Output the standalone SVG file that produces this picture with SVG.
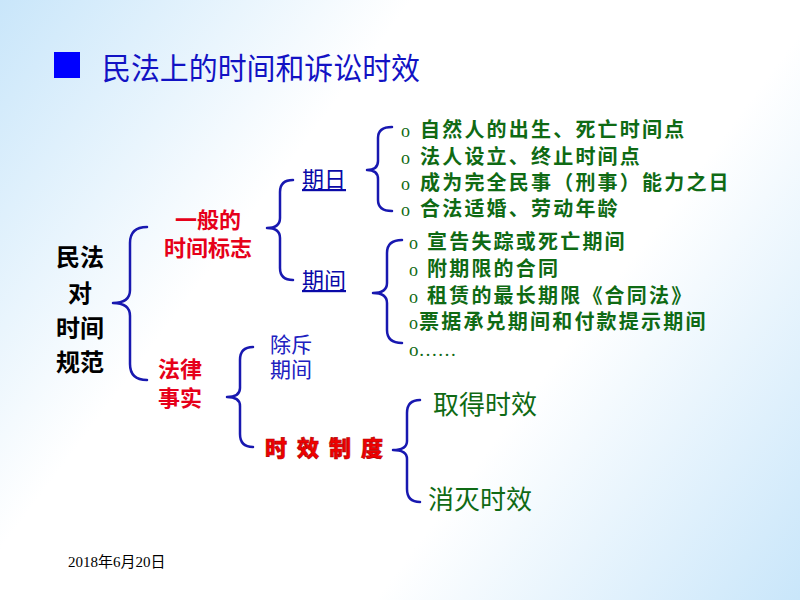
<svg xmlns="http://www.w3.org/2000/svg" width="800" height="600" viewBox="0 0 800 600">
<defs>
<linearGradient id="bg" gradientUnits="userSpaceOnUse" x1="0" y1="0" x2="800" y2="600">
<stop offset="0" stop-color="#c9e6fa"/>
<stop offset="0.33" stop-color="#ffffff"/>
<stop offset="0.66" stop-color="#ffffff"/>
<stop offset="1" stop-color="#c9e6fa"/>
</linearGradient>
<style>
text{font-family:"Noto Sans CJK SC","Noto Sans",sans-serif;}
.brace{fill:none;stroke:#1818b0;stroke-width:2.5;stroke-linecap:round;stroke-linejoin:round;}
.title{font-size:30px;fill:#1212c4;}
.root{font-size:24px;font-weight:bold;fill:#000;text-anchor:middle;}
.red{font-size:22px;font-weight:bold;fill:#e6001a;text-anchor:middle;}
.link{font-size:22px;fill:#0a0aa8;text-decoration:underline;}
.blue{font-size:21px;fill:#2020c0;}
.item{font-size:20px;font-weight:bold;fill:#0f6a14;letter-spacing:2.2px;}
.bul{font-family:"Liberation Serif",serif;font-size:18px;fill:#0f6a14;}
.big{font-size:26px;fill:#0f6a14;}
.date{font-family:"Liberation Serif","Noto Sans CJK SC",serif;font-size:15px;fill:#000;}
</style>
</defs>
<rect x="0" y="0" width="800" height="600" fill="url(#bg)"/>
<g id="title">
<rect x="54" y="52" width="26" height="26" fill="#0000ff"/>
<text class="title" x="102" y="79" textLength="318" lengthAdjust="spacingAndGlyphs">民法上的时间和诉讼时效</text>
</g>
<g id="connectors">
<path class="brace" d="M147,227 Q130,227 130,243 L130,290 Q130,303 113,303 Q130,303 130,316 L130,364 Q130,380 147,380"/>
<path class="brace" d="M293,180 Q280,180 280,192 L280,218 Q280,228 267,228 Q280,228 280,238 L280,268 Q280,280 293,280"/>
<path class="brace" d="M392,127 Q378,127 378,138 L378,161 Q378,170 367,170 Q378,170 378,179 L378,200 Q378,211 392,211"/>
<path class="brace" d="M402,240 Q387,240 387,253 L387,283 Q387,293 373,293 Q387,293 387,303 L387,330 Q387,343 402,343"/>
<path class="brace" d="M253,347 Q240,347 240,360 L240,388 Q240,397 227,397 Q240,397 240,406 L240,434 Q240,447 253,447"/>
<path class="brace" d="M420,400 Q407,400 407,413 L407,441 Q407,450 393,450 Q407,450 407,459 L407,489 Q407,502 420,502"/>
</g>
<g id="root">
<text class="root" x="80" y="266">民法</text>
<text class="root" x="80" y="302">对</text>
<text class="root" x="80" y="337">时间</text>
<text class="root" x="80" y="371">规范</text>
</g>
<g id="general">
<text class="red" x="208" y="228">一般的</text>
<text class="red" x="208" y="256">时间标志</text>
</g>
<g id="legal-fact">
<text class="red" x="180" y="377">法律</text>
<text class="red" x="180" y="406">事实</text>
</g>
<g id="qiri">
<text class="link" x="302" y="187">期日</text>
</g>
<g id="qijian">
<text class="link" x="302" y="288">期间</text>
</g>
<g id="qiri-list">
<text class="bul" x="401" y="137">o</text><text class="item" x="420" y="137">自然人的出生、死亡时间点</text>
<text class="bul" x="401" y="164">o</text><text class="item" x="420" y="164">法人设立、终止时间点</text>
<text class="bul" x="401" y="190">o</text><text class="item" x="420" y="190">成为完全民事（刑事）能力之日</text>
<text class="bul" x="401" y="216">o</text><text class="item" x="420" y="216">合法适婚、劳动年龄</text>
</g>
<g id="qijian-list">
<text class="bul" x="409" y="249">o</text><text class="item" x="427" y="249">宣告失踪或死亡期间</text>
<text class="bul" x="409" y="276">o</text><text class="item" x="427" y="276">附期限的合同</text>
<text class="bul" x="409" y="303">o</text><text class="item" x="427" y="303">租赁的最长期限《合同法》</text>
<text class="bul" x="409" y="329">o</text><text class="item" x="419" y="329">票据承兑期间和付款提示期间</text>
<text class="bul" x="409" y="356" style="font-size:19px">o……</text>
</g>
<g id="chuchi">
<text class="blue" x="270" y="352">除斥</text>
<text class="blue" x="270" y="377">期间</text>
</g>
<g id="shixiao">
<text x="265" y="456" style="font-size:22px;font-weight:900;fill:#f00000;stroke:#b00000;stroke-width:0.6;letter-spacing:10px">时效制度</text>
</g>
<g id="qude">
<text class="big" x="433" y="414">取得时效</text>
</g>
<g id="xiaomie">
<text class="big" x="428" y="509">消灭时效</text>
</g>
<text class="date" x="68" y="567">2018年6月20日</text>
</svg>
